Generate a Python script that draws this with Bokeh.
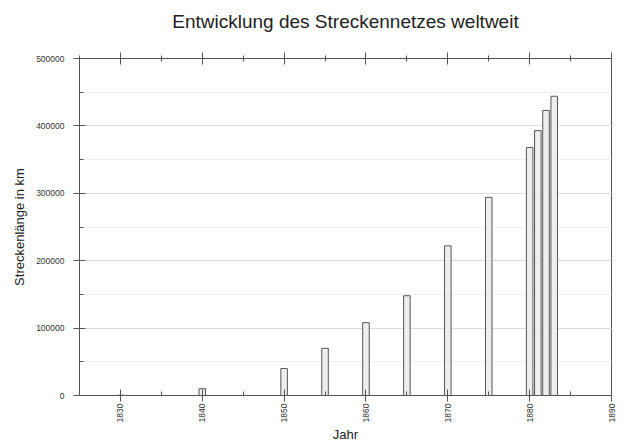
import math
from bokeh.plotting import figure
from bokeh.models import Range1d, LinearAxis, SingleIntervalTicker, NumeralTickFormatter
from bokeh.embed import file_html
from bokeh.resources import INLINE

# Data
years = [1830, 1840, 1850, 1855, 1860, 1865, 1870, 1875, 1880, 1881, 1882, 1883]
km = [400, 10000, 40000, 70000, 108000, 148000, 222000, 294000, 368000, 393000, 423000, 444000]

title_text = "Entwicklung des Streckennetzes weltweit"
x_label = "Jahr"
y_label = "Streckenlänge in km"

FONT = "Liberation Sans"
AX = "#555555"

p = figure(width=619, height=445, output_backend="svg", toolbar_location=None,
           x_range=Range1d(1825, 1890), y_range=Range1d(0, 500000),
           min_border_left=79, min_border_right=8, min_border_top=58, min_border_bottom=49)

p.outline_line_color = AX

xt = SingleIntervalTicker(interval=10, num_minor_ticks=2)
yt = SingleIntervalTicker(interval=100000, num_minor_ticks=2)

p.xaxis.ticker = xt
p.yaxis.ticker = yt
p.yaxis.formatter = NumeralTickFormatter(format="0")
p.xaxis.major_label_orientation = math.pi / 2

for ax in (p.xaxis[0], p.yaxis[0]):
    ax.axis_line_color = AX
    ax.major_tick_line_color = AX
    ax.minor_tick_line_color = AX
    ax.major_tick_in = 6
    ax.major_tick_out = 6
    ax.minor_tick_in = 4
    ax.minor_tick_out = 0
    ax.major_label_text_font = FONT
    ax.major_label_text_font_size = "8.5px"
    ax.major_label_text_color = "#333333"
    ax.axis_label_text_font = FONT
    ax.axis_label_text_font_size = "13px"
    ax.axis_label_text_font_style = "normal"
    ax.axis_label_text_color = "#222222"

p.xaxis.major_label_standoff = 2
p.xaxis.axis_label_standoff = 2
p.yaxis.major_label_standoff = 9
p.yaxis.axis_label_standoff = 6

p.xaxis.axis_label = x_label
p.yaxis.axis_label = y_label

# top axis: ticks only, carries the chart title as its label
top = LinearAxis(ticker=SingleIntervalTicker(interval=10, num_minor_ticks=2),
                 major_label_text_font_size="1px", major_label_text_color=None,
                 major_label_standoff=0,
                 axis_line_color=AX,
                 major_tick_line_color=AX, minor_tick_line_color=AX,
                 major_tick_in=6, major_tick_out=6, minor_tick_in=3, minor_tick_out=3,
                 axis_label=title_text, axis_label_standoff=21,
                 axis_label_text_font=FONT, axis_label_text_font_size="19px",
                 axis_label_text_font_style="normal", axis_label_text_color="#222222")
p.add_layout(top, "above")

p.xgrid.grid_line_color = None
p.ygrid.grid_line_color = "#dddddd"
p.ygrid.minor_grid_line_color = "#eeeeee"

p.vbar(x=years, top=km, width=0.8, fill_color="#eeeeee", line_color="#555555", line_width=1)

open("out.html", "w").write(file_html(p, INLINE))
